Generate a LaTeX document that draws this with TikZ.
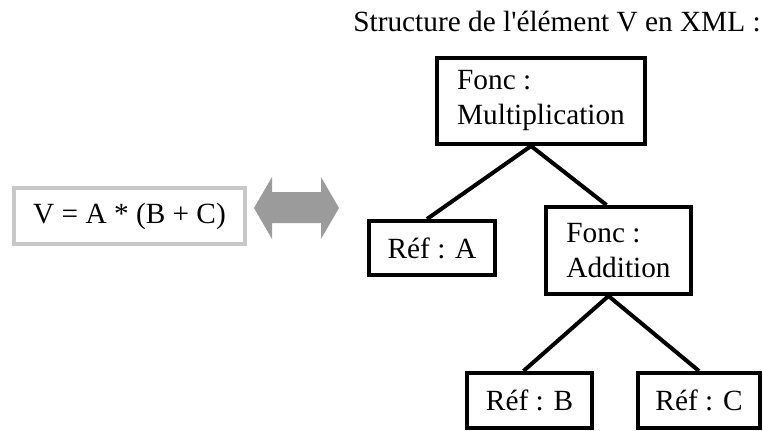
\documentclass[tikz,border=0pt]{standalone}
\usepackage{fontspec}
\newfontfamily\timesfont{Liberation Serif}
\usetikzlibrary{positioning}
\definecolor{exprgray}{RGB}{200,200,200}
\definecolor{arrowgray}{RGB}{155,155,155}

\begin{document}
\begin{tikzpicture}[x=1pt,y=-1pt,line width=4pt,
        elem node/.style={rectangle,draw,inner sep=0pt,align=left,
          font=\timesfont\fontsize{29.3}{35}\selectfont},
        expr node/.style={elem node,draw=exprgray}]
    \useasboundingbox (0,0) rectangle (763,431);

    \node[font=\timesfont\fontsize{29.3}{35}\selectfont,inner sep=0pt] (title) at (557,22)
        {Structure de l'élément V en XML :};

    \node[expr node,minimum width=231,minimum height=56] (expr) at (129.5,216) {V = A * (B + C)};

    \node[elem node,minimum width=208,minimum height=86] (mult) at (541,101) {Fonc :\\Multiplication};
    \node[elem node,minimum width=126,minimum height=54] (refA) at (432,248) {Réf : A};
    \node[elem node,minimum width=145,minimum height=87] (add) at (618.5,250.5) {Fonc :\\Addition};
    \node[elem node,minimum width=125,minimum height=55] (refB) at (529.5,400.5) {Réf : B};
    \node[elem node,minimum width=122,minimum height=55] (refC) at (699,400.5) {Réf : C};

    % double arrow
    \coordinate (arr) at (296.5,208);
    \fill[arrowgray] ([xshift=-42.5pt]arr) -- ++(18,-31) -- ++(0,15) -- ++(49,0) -- ++(0,-15)
        -- ([xshift=42.5pt]arr) -- ++(-18,31) -- ++(0,-16) -- ++(-49,0) -- ++(0,16) -- cycle;

    \path[-]
    ([xshift=-10pt]mult.south) edge ([xshift=-5pt]refA.north)
    ([xshift=-10pt]mult.south) edge ([xshift=-12pt]add.north)
    ([xshift=-10pt]add.south) edge ([xshift=-6pt]refB.north)
    ([xshift=-10pt]add.south) edge (refC.north);

\end{tikzpicture}
\end{document}
